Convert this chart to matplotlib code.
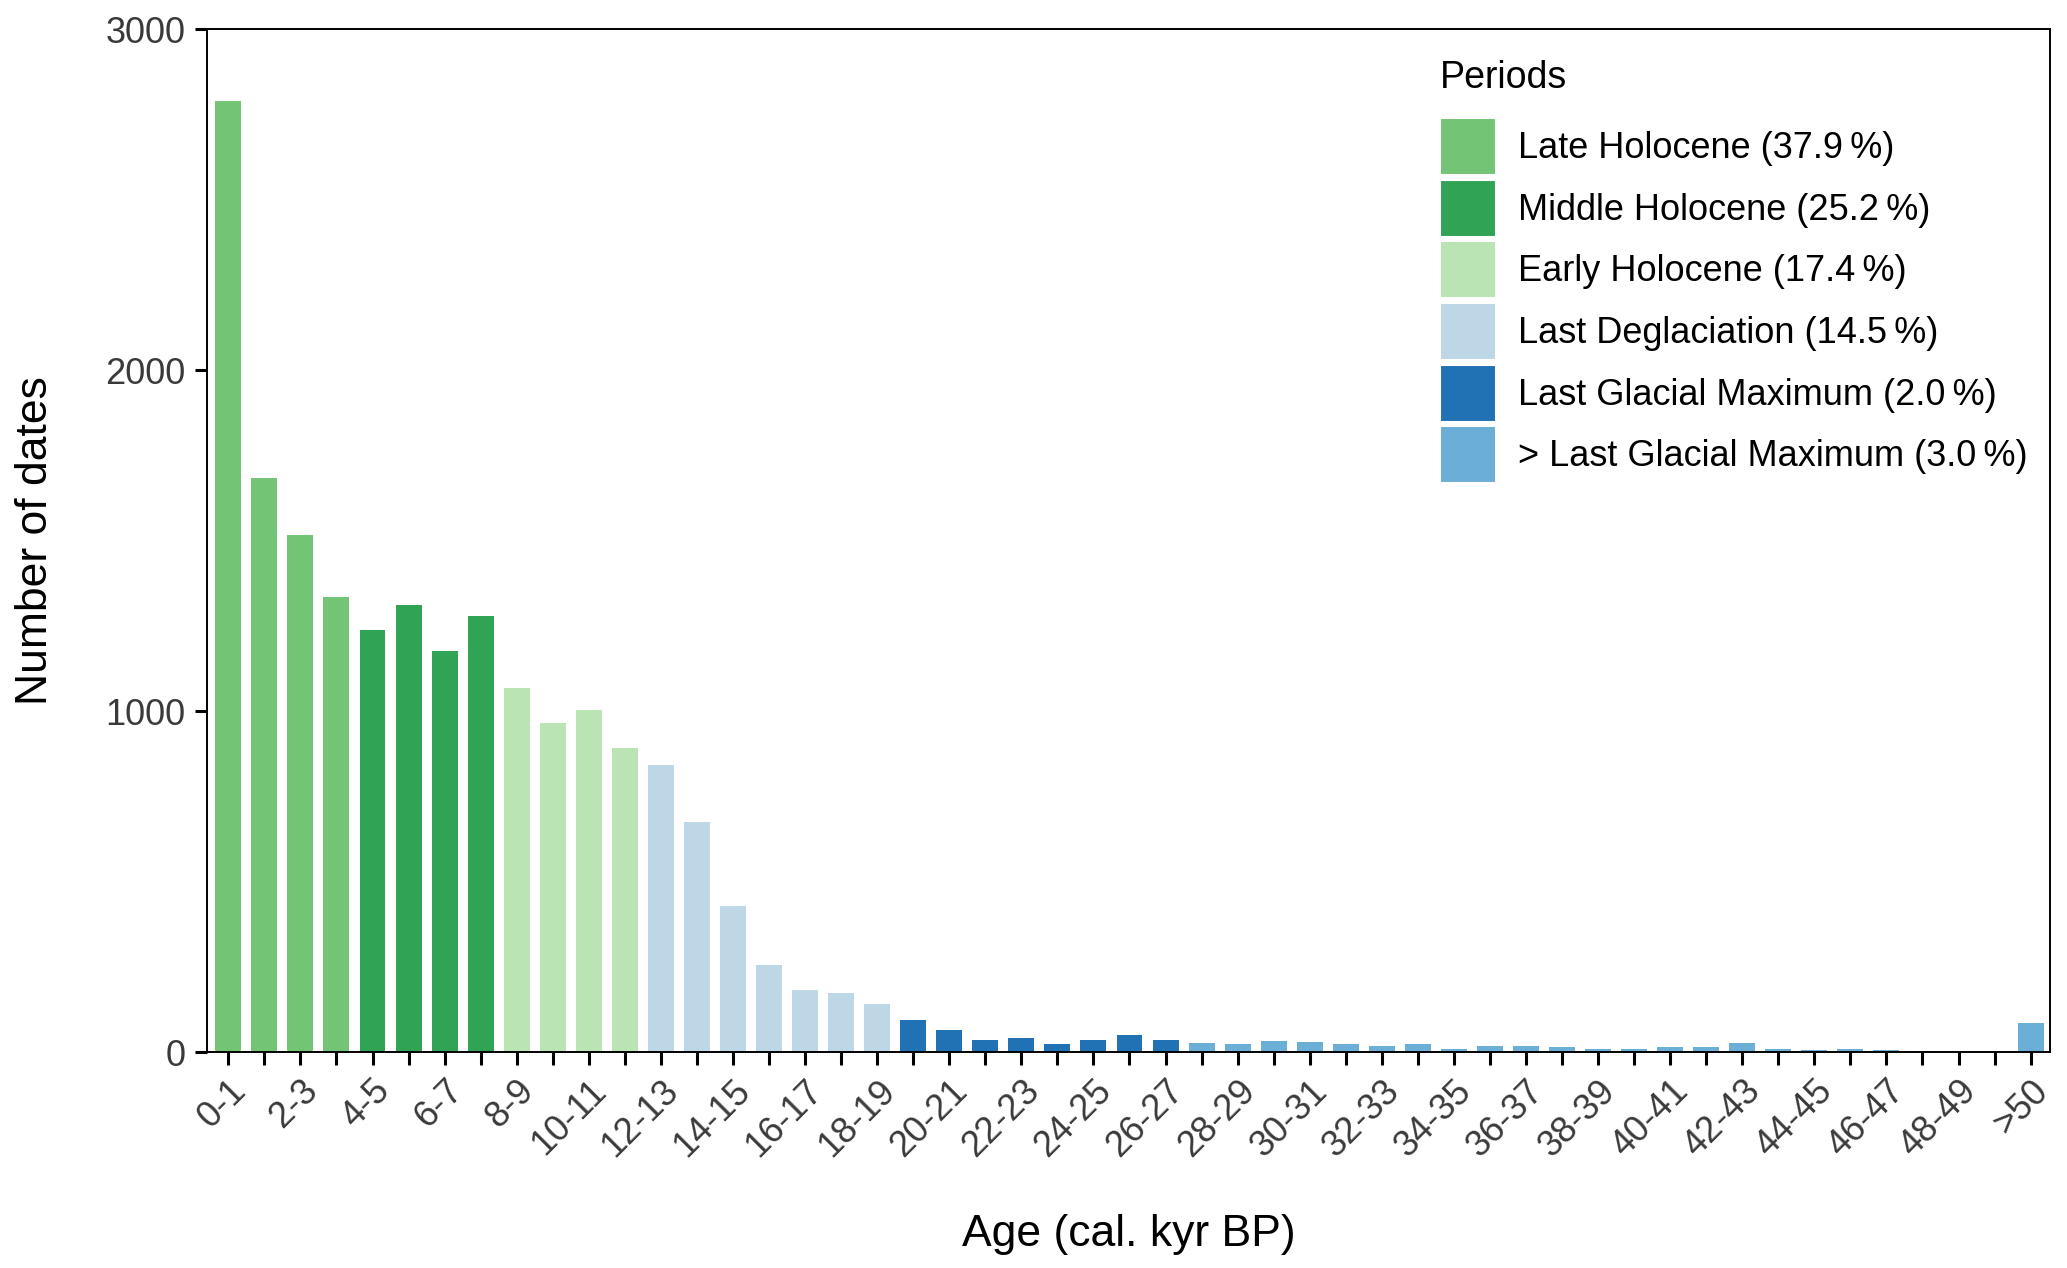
import numpy as np
import matplotlib
matplotlib.use("Agg")
import matplotlib.pyplot as plt
from matplotlib.patches import Patch

plt.rcParams['font.family'] = ['Liberation Sans', 'DejaVu Sans']

# ---------------------------------------------------------------------------------
# Data
# ---------------------------------------------------------------------------------
age_bins = [f"{i}-{i + 1}" for i in range(50)] + [">50"]
counts = [2790, 1684, 1518, 1336, 1239, 1312, 1177, 1281, 1069, 966,
          1003, 894, 844, 677, 430, 255, 183, 174, 143, 94,
          65, 36, 41, 25, 36, 52, 36, 27, 24, 35,
          32, 25, 20, 25, 10, 20, 20, 15, 10, 10,
          15, 15, 28, 10, 7, 9, 6, 4, 2, 0,
          87]
# period index for each age bin
period_of_bin = [0] * 4 + [1] * 4 + [2] * 4 + [3] * 7 + [4] * 8 + [5] * 24

periods = ["Late Holocene (37.9\u2009%)", "Middle Holocene (25.2\u2009%)",
           "Early Holocene (17.4\u2009%)", "Last Deglaciation (14.5\u2009%)",
           "Last Glacial Maximum (2.0\u2009%)", "> Last Glacial Maximum (3.0\u2009%)"]
period_colors = ["#74c476", "#31a354", "#bae4b3", "#bdd7e7", "#2171b5", "#6baed6"]

# ---------------------------------------------------------------------------------
# Plot
# ---------------------------------------------------------------------------------
fig = plt.figure(figsize=(20.67, 12.68), dpi=100)
ax = fig.add_axes([0.100, 0.170, 0.892, 0.807])

x = np.arange(len(age_bins))
bar_colors = [period_colors[p] for p in period_of_bin]
ax.bar(x, counts, width=0.72, color=bar_colors, linewidth=0)

ax.set_xlim(-0.6, len(age_bins) - 0.45)
ax.set_ylim(0, 3000)
ax.set_yticks([0, 1000, 2000, 3000])

ax.set_xticks(x)
ax.set_xticklabels([lab if (i % 2 == 0) else "" for i, lab in enumerate(age_bins)],
                   rotation=45, ha='right', rotation_mode='anchor')

ax.tick_params(axis='both', direction='out', length=9, width=2.2, color='black',
               labelsize=26, labelcolor='#3a3a3a', pad=6)
for sp in ax.spines.values():
    sp.set_linewidth(1.4)
    sp.set_color('black')

ax.set_ylabel("Number of dates", fontsize=32, labelpad=36)
ax.set_xlabel("Age (cal. kyr BP)", fontsize=32, labelpad=36)

handles = [Patch(facecolor=c, edgecolor='white', linewidth=1.5) for c in period_colors]
leg = ax.legend(handles, periods, title="Periods", loc='upper left',
                bbox_to_anchor=(0.669, 0.970), frameon=False, fontsize=26,
                title_fontsize=27, handlelength=1.55, handleheight=2.05,
                labelspacing=0.13, handletextpad=0.6, borderpad=0, borderaxespad=0)
leg._legend_box.align = "left"
leg._legend_box.sep = 16

fig.savefig("out.png", dpi=100)
